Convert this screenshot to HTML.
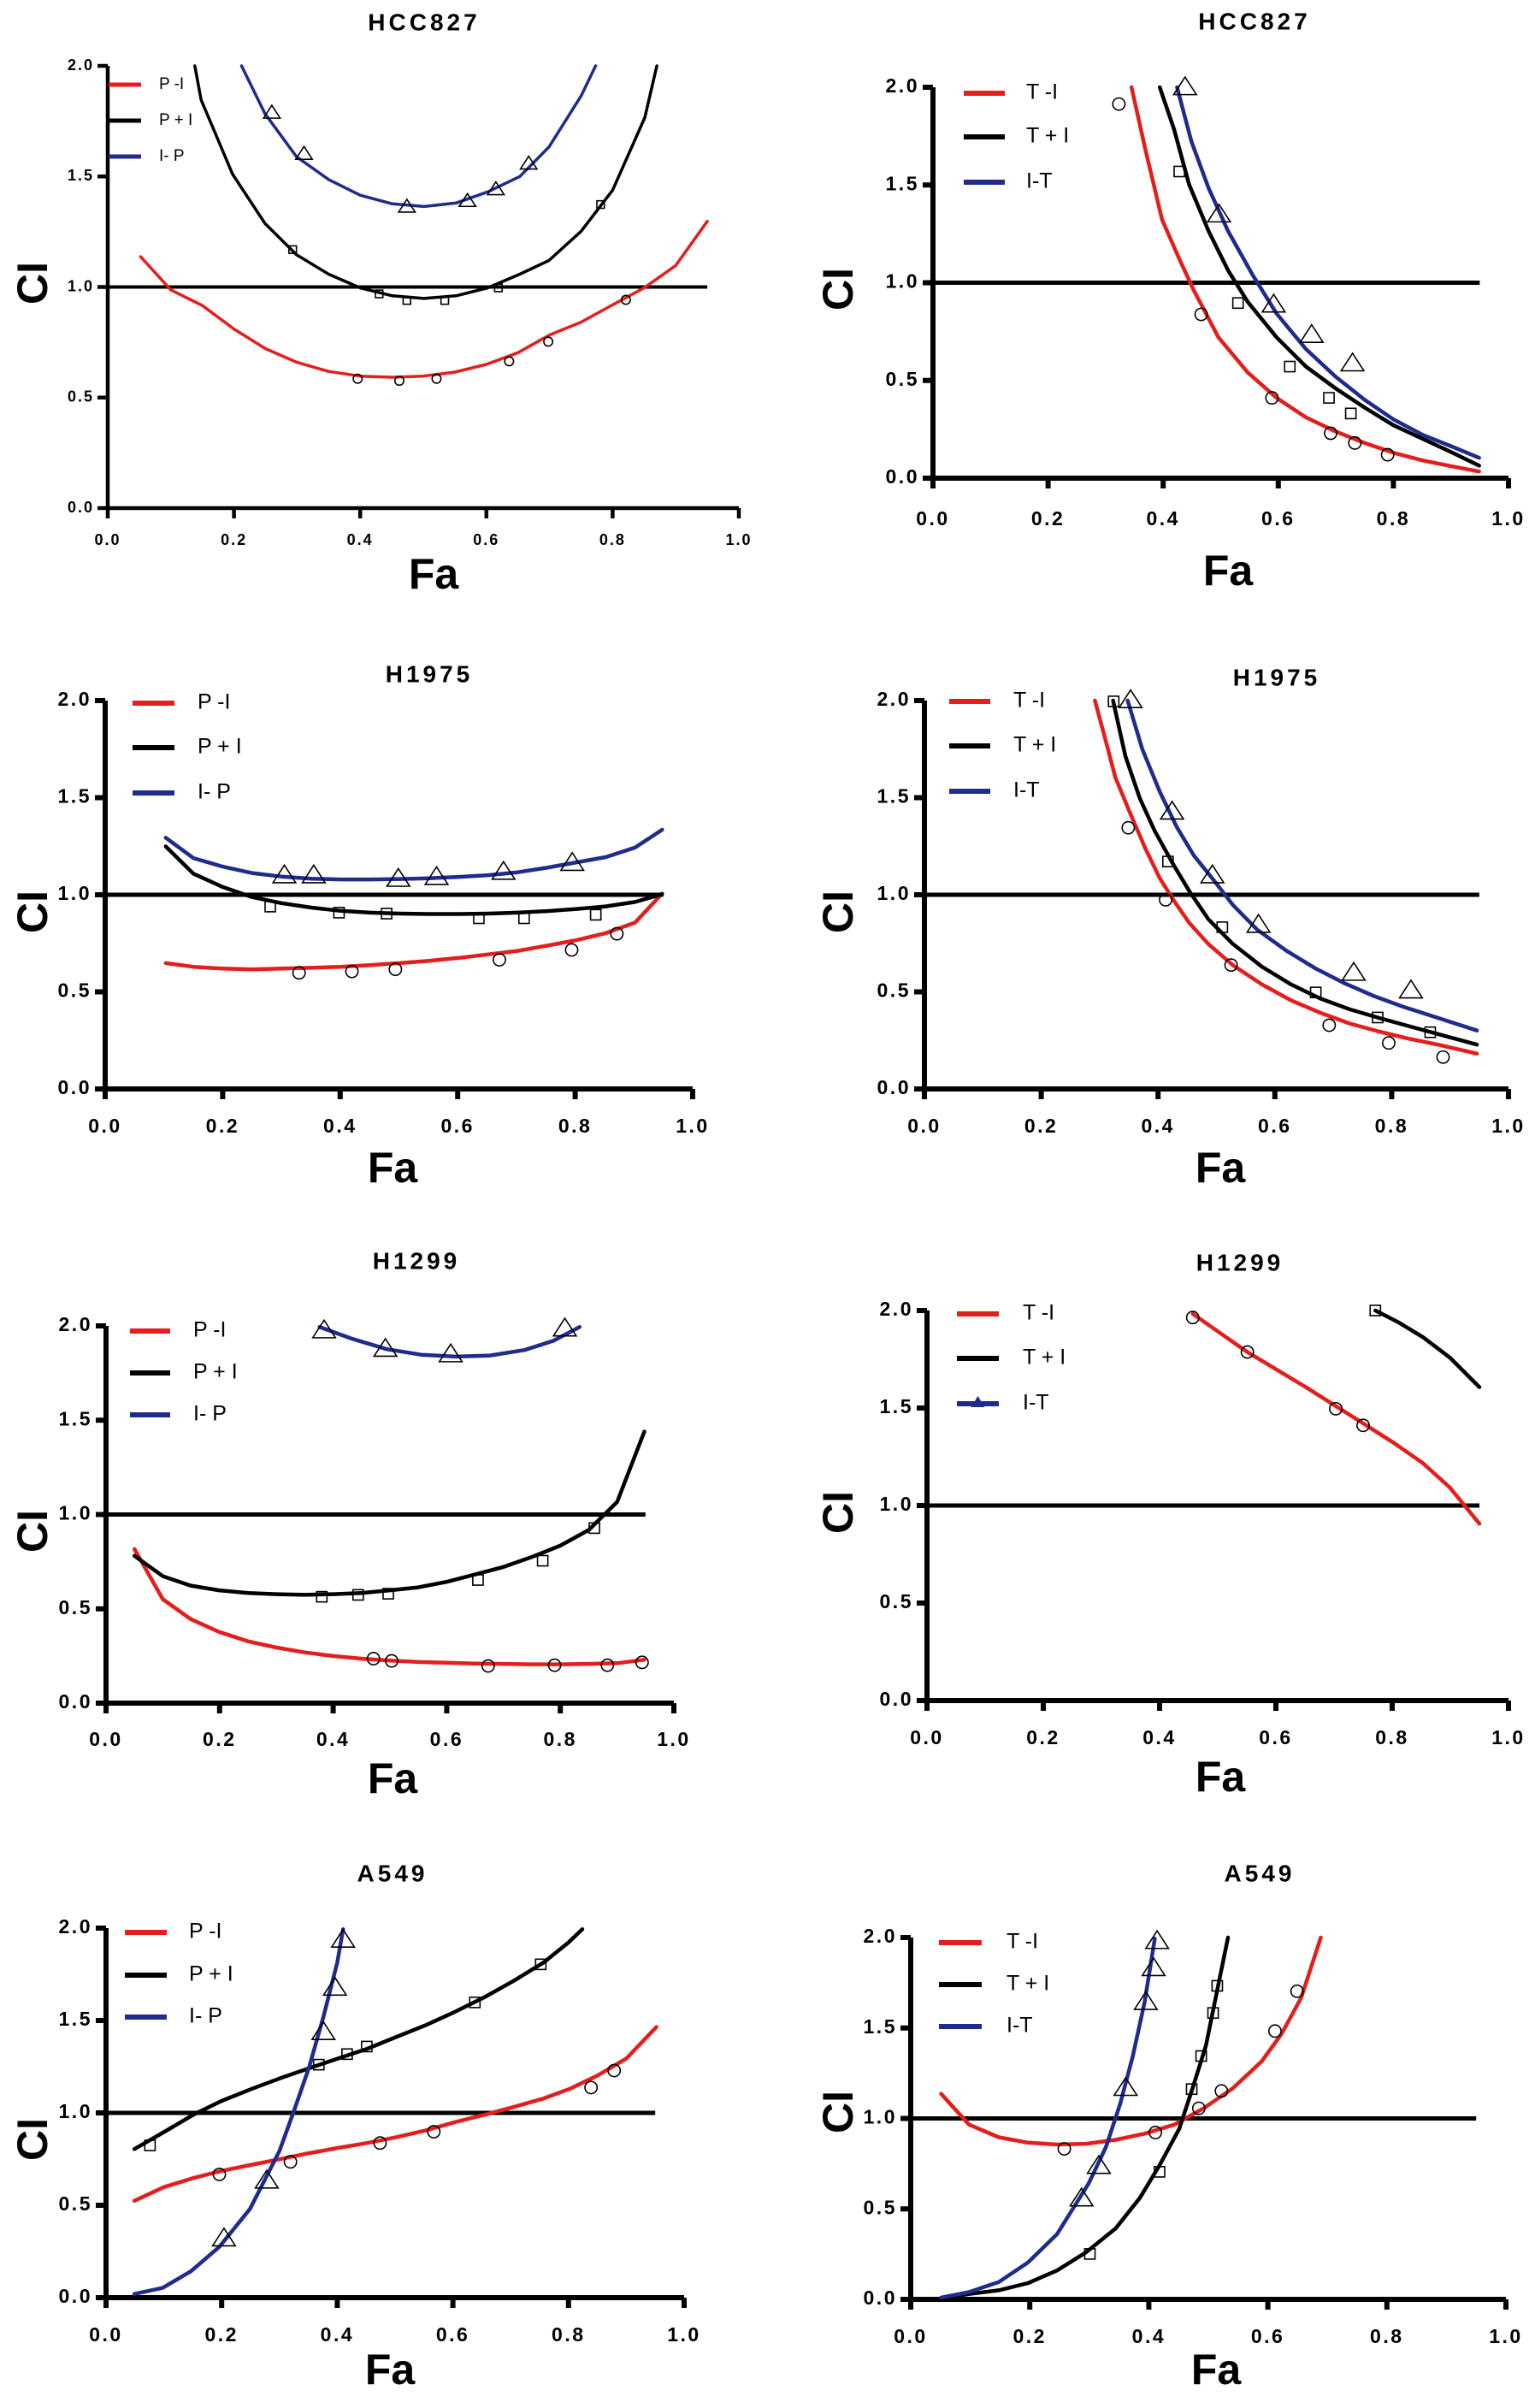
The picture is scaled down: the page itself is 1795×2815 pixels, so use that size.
<!DOCTYPE html>
<html><head><meta charset="utf-8">
<style>
html,body{margin:0;padding:0;background:#fff;}
svg{display:block;}
text{font-family:"Liberation Sans",Arial,sans-serif;}
</style></head>
<body>
<svg id="fig" width="1795" height="2815" viewBox="0 0 1795 2815" xmlns="http://www.w3.org/2000/svg"></svg>
<script>
// ---------- data ----------
// Panel 1 HCC827 (P)
const p1_red_x=[0.052,0.1,0.15,0.2,0.25,0.3,0.35,0.4,0.45,0.5,0.55,0.6,0.65,0.7,0.75,0.8,0.85,0.9,0.95];
const p1_red_y=[1.137,0.987,0.916,0.81,0.721,0.659,0.618,0.597,0.592,0.597,0.615,0.65,0.703,0.783,0.841,0.919,0.996,1.097,1.297];
const p1_red_px=[0.396,0.462,0.521,0.636,0.698,0.821];
const p1_red_py=[0.585,0.576,0.585,0.664,0.753,0.942];
const p1_blk_x=[0.138,0.148,0.198,0.249,0.299,0.35,0.4,0.451,0.501,0.552,0.602,0.653,0.699,0.75,0.8,0.851,0.87];
const p1_blk_y=[2.0,1.846,1.509,1.288,1.146,1.058,0.996,0.96,0.948,0.96,0.996,1.058,1.12,1.252,1.438,1.766,2.0];
const p1_blk_px=[0.293,0.43,0.474,0.534,0.619,0.781];
const p1_blk_py=[1.169,0.969,0.939,0.939,0.996,1.373];
const p1_blu_x=[0.212,0.249,0.299,0.35,0.4,0.451,0.501,0.552,0.602,0.653,0.699,0.75,0.773];
const p1_blu_y=[2.0,1.784,1.589,1.486,1.415,1.376,1.364,1.38,1.43,1.5,1.633,1.864,2.0];
const p1_blu_px=[0.26,0.311,0.474,0.57,0.615,0.667];
const p1_blu_py=[1.784,1.598,1.359,1.385,1.438,1.554];
// Panel 2 HCC827 (T)
const p2_red_x=[0.345,0.369,0.398,0.428,0.453,0.496,0.547,0.597,0.648,0.699,0.75,0.8,0.852,0.903,0.949];
const p2_red_y=[2.0,1.683,1.323,1.122,0.962,0.721,0.541,0.411,0.311,0.24,0.18,0.13,0.09,0.06,0.034];
const p2_red_px=[0.323,0.466,0.589,0.691,0.733,0.79];
const p2_red_py=[1.914,0.838,0.411,0.23,0.18,0.12];
const p2_blk_x=[0.394,0.419,0.445,0.479,0.513,0.547,0.597,0.648,0.699,0.75,0.8,0.852,0.903,0.949];
const p2_blk_y=[2.0,1.784,1.503,1.263,1.062,0.902,0.721,0.571,0.461,0.361,0.271,0.2,0.13,0.064];
const p2_blk_px=[0.428,0.53,0.62,0.688,0.726];
const p2_blk_py=[1.569,0.896,0.571,0.411,0.331];
const p2_blu_x=[0.424,0.449,0.479,0.513,0.555,0.597,0.648,0.699,0.75,0.8,0.852,0.903,0.949];
const p2_blu_y=[2.0,1.723,1.483,1.263,1.042,0.842,0.661,0.521,0.401,0.301,0.22,0.16,0.104];
const p2_blu_px=[0.438,0.497,0.592,0.658,0.729];
const p2_blu_py=[1.994,1.343,0.882,0.727,0.581];
// Panel 3 H1975 (P)
const p3_red_x=[0.103,0.15,0.2,0.25,0.3,0.351,0.401,0.451,0.501,0.551,0.602,0.652,0.702,0.752,0.802,0.852,0.902,0.948];
const p3_red_y=[0.648,0.629,0.62,0.616,0.62,0.624,0.629,0.638,0.648,0.66,0.675,0.693,0.711,0.738,0.766,0.802,0.857,1.006];
const p3_red_px=[0.33,0.42,0.494,0.671,0.794,0.871];
const p3_red_py=[0.598,0.605,0.616,0.665,0.716,0.799];
const p3_blk_x=[0.103,0.15,0.2,0.25,0.3,0.351,0.401,0.451,0.501,0.551,0.602,0.652,0.702,0.752,0.802,0.852,0.902,0.948];
const p3_blk_y=[1.249,1.109,1.04,0.988,0.957,0.934,0.917,0.908,0.903,0.901,0.901,0.903,0.908,0.916,0.927,0.94,0.963,1.003];
const p3_blk_px=[0.281,0.398,0.479,0.636,0.713,0.835];
const p3_blk_py=[0.939,0.908,0.903,0.879,0.879,0.897];
const p3_blu_x=[0.103,0.15,0.2,0.25,0.3,0.351,0.401,0.451,0.501,0.551,0.602,0.652,0.702,0.752,0.802,0.852,0.902,0.948];
const p3_blu_y=[1.294,1.189,1.145,1.112,1.094,1.083,1.079,1.079,1.081,1.085,1.092,1.101,1.116,1.139,1.167,1.194,1.243,1.335];
const p3_blu_px=[0.305,0.355,0.499,0.564,0.678,0.795];
const p3_blu_py=[1.094,1.094,1.076,1.085,1.112,1.158];
// Panel 4 H1975 (T)
const p4_red_x=[0.292,0.311,0.327,0.352,0.378,0.403,0.428,0.453,0.486,0.528,0.578,0.628,0.678,0.728,0.779,0.829,0.879,0.946];
const p4_red_y=[2.0,1.787,1.604,1.422,1.24,1.085,0.966,0.857,0.747,0.638,0.538,0.456,0.392,0.337,0.295,0.259,0.228,0.182];
const p4_red_px=[0.349,0.413,0.525,0.693,0.795,0.888];
const p4_red_py=[1.345,0.974,0.638,0.328,0.237,0.164];
const p4_blk_x=[0.323,0.344,0.369,0.394,0.424,0.453,0.486,0.528,0.578,0.628,0.678,0.728,0.779,0.829,0.879,0.946];
const p4_blk_y=[2.0,1.714,1.495,1.331,1.167,1.021,0.875,0.747,0.629,0.538,0.465,0.41,0.365,0.324,0.283,0.228];
const p4_blk_px=[0.324,0.417,0.51,0.67,0.776,0.866];
const p4_blk_py=[1.996,1.171,0.833,0.497,0.368,0.292];
const p4_blu_x=[0.348,0.373,0.403,0.432,0.461,0.495,0.528,0.57,0.62,0.67,0.72,0.77,0.82,0.871,0.946];
const p4_blu_y=[2.0,1.75,1.531,1.349,1.203,1.076,0.948,0.82,0.711,0.62,0.543,0.478,0.423,0.374,0.301];
const p4_blu_px=[0.353,0.424,0.493,0.572,0.735,0.833];
const p4_blu_py=[1.996,1.422,1.094,0.839,0.592,0.501];
// Panel 5 H1299 (P)
const p5_red_x=[0.05,0.1,0.149,0.199,0.25,0.3,0.35,0.4,0.45,0.5,0.55,0.6,0.65,0.7,0.75,0.8,0.85,0.9,0.948];
const p5_red_y=[0.817,0.551,0.446,0.378,0.328,0.295,0.269,0.25,0.236,0.226,0.218,0.214,0.21,0.208,0.206,0.206,0.208,0.212,0.23];
const p5_red_px=[0.471,0.503,0.673,0.79,0.883,0.944];
const p5_red_py=[0.236,0.224,0.197,0.201,0.201,0.216];
const p5_blk_x=[0.05,0.1,0.149,0.199,0.25,0.3,0.35,0.4,0.45,0.5,0.55,0.6,0.65,0.7,0.75,0.8,0.85,0.9,0.948];
const p5_blk_y=[0.781,0.673,0.623,0.598,0.584,0.578,0.574,0.578,0.584,0.598,0.614,0.643,0.682,0.722,0.775,0.835,0.918,1.066,1.44];
const p5_blk_px=[0.38,0.444,0.497,0.655,0.769,0.86];
const p5_blk_py=[0.564,0.574,0.58,0.653,0.755,0.928];
const p5_blu_x=[0.376,0.434,0.495,0.555,0.616,0.676,0.737,0.788,0.834];
const p5_blu_y=[1.994,1.931,1.876,1.847,1.837,1.843,1.872,1.921,1.994];
const p5_blu_px=[0.384,0.492,0.607,0.808];
const p5_blu_py=[1.97,1.872,1.843,1.98];
// Panel 6 H1299 (T)
const p6_red_x=[0.457,0.551,0.652,0.753,0.803,0.853,0.899,0.95];
const p6_red_y=[1.983,1.787,1.606,1.416,1.321,1.217,1.093,0.907];
const p6_red_px=[0.457,0.551,0.703,0.75];
const p6_red_py=[1.964,1.787,1.496,1.411];
const p6_blk_x=[0.771,0.811,0.853,0.899,0.95];
const p6_blk_y=[2.0,1.939,1.863,1.759,1.607];
const p6_blk_px=[0.771];
const p6_blk_py=[2.0];
const p6_blu_x=[];
const p6_blu_y=[];
const p6_blu_px=[];
const p6_blu_py=[];
// Panel 7 A549 (P)
const p7_red_x=[0.049,0.1,0.151,0.2,0.253,0.3,0.351,0.401,0.452,0.503,0.554,0.605,0.655,0.706,0.757,0.803,0.85,0.9,0.952];
const p7_red_y=[0.524,0.598,0.647,0.686,0.72,0.749,0.782,0.81,0.837,0.869,0.906,0.951,0.99,1.033,1.078,1.131,1.202,1.294,1.465];
const p7_red_px=[0.196,0.319,0.474,0.567,0.839,0.879];
const p7_red_py=[0.667,0.735,0.837,0.898,1.137,1.229];
const p7_blk_x=[0.049,0.1,0.151,0.2,0.253,0.3,0.351,0.401,0.452,0.503,0.554,0.605,0.655,0.706,0.757,0.8,0.824];
const p7_blk_y=[0.804,0.896,0.99,1.065,1.131,1.186,1.241,1.294,1.347,1.412,1.476,1.549,1.627,1.716,1.814,1.922,1.994];
const p7_blk_px=[0.076,0.368,0.417,0.451,0.638,0.752];
const p7_blk_py=[0.824,1.261,1.318,1.359,1.598,1.804];
const p7_blu_x=[0.049,0.098,0.147,0.196,0.249,0.3,0.325,0.351,0.376,0.4,0.41];
const p7_blu_y=[0.02,0.053,0.143,0.275,0.48,0.794,1.01,1.245,1.52,1.814,1.994];
const p7_blu_px=[0.204,0.278,0.376,0.396,0.41];
const p7_blu_py=[0.314,0.627,1.431,1.671,1.931];
// Panel 8 A549 (T)
const p8_red_x=[0.051,0.098,0.148,0.197,0.246,0.295,0.344,0.393,0.443,0.492,0.541,0.59,0.623,0.656,0.689];
const p8_red_y=[1.136,0.966,0.896,0.866,0.856,0.86,0.882,0.916,0.966,1.056,1.166,1.317,1.467,1.667,2.0];
const p8_red_px=[0.258,0.411,0.484,0.522,0.612,0.649];
const p8_red_py=[0.832,0.922,1.056,1.152,1.483,1.703];
const p8_blk_x=[0.051,0.098,0.148,0.197,0.246,0.295,0.344,0.385,0.418,0.451,0.475,0.496,0.512,0.533];
const p8_blk_y=[0.004,0.03,0.05,0.09,0.16,0.261,0.391,0.561,0.741,0.942,1.182,1.403,1.663,2.0];
const p8_blk_px=[0.301,0.418,0.472,0.488,0.508,0.515];
const p8_blk_py=[0.251,0.705,1.162,1.345,1.583,1.733];
const p8_blu_x=[0.051,0.098,0.148,0.197,0.246,0.299,0.328,0.352,0.373,0.393,0.41];
const p8_blu_y=[0.01,0.04,0.096,0.204,0.361,0.641,0.842,1.082,1.343,1.643,1.994];
const p8_blu_px=[0.287,0.316,0.361,0.395,0.408,0.414];
const p8_blu_py=[0.551,0.731,1.162,1.637,1.824,1.974];

const xTicks=[0,0.2,0.4,0.6,0.8,1.0];
const yTicks=[0,0.5,1.0,1.5,2.0];
const xTickLabels=["0.0","0.2","0.4","0.6","0.8","1.0"];
const yTickLabels=["0.0","0.5","1.0","1.5","2.0"];
const refValue=1.0, refXMax=0.95;

// ---------- layout (pixels) ----------
const RED="#e41e1c", BLK="#000", BLU="#1f2c8c";
const panels=[
 {id:"p1",title:"HCC827",x0:126,x1:864,yT:77,yB:594,tx:496,ty:28,fa:[507,688],ci:[34,323],tick:18,tickY:632,lg:{l1:127,l2:165,lx:186,rows:[99,141,183],fs:19},names:["P -I","P + I","I- P"],mk:0.8,d:[p1_red_x,p1_red_y,p1_red_px,p1_red_py,p1_blk_x,p1_blk_y,p1_blk_px,p1_blk_py,p1_blu_x,p1_blu_y,p1_blu_px,p1_blu_py]},
 {id:"p2",title:"HCC827",x0:1091,x1:1764,yT:102,yB:559,tx:1467,ty:27,fa:[1436,684],ci:[976,330],tick:23,tickY:608,lg:{l1:1127,l2:1175,lx:1200,rows:[109,160,213],fs:25},names:["T -I","T + I","I-T"],mk:1.1,d:[p2_red_x,p2_red_y,p2_red_px,p2_red_py,p2_blk_x,p2_blk_y,p2_blk_px,p2_blk_py,p2_blu_x,p2_blu_y,p2_blu_px,p2_blu_py]},
 {id:"p3",title:"H1975",x0:123,x1:810,yT:819,yB:1273,tx:502,ty:790,fa:[459,1382],ci:[34,1058],tick:23,tickY:1318,lg:{l1:155,l2:204,lx:231,rows:[822,874,927],fs:25},names:["P -I","P + I","I- P"],mk:1.1,d:[p3_red_x,p3_red_y,p3_red_px,p3_red_py,p3_blk_x,p3_blk_y,p3_blk_px,p3_blk_py,p3_blu_x,p3_blu_y,p3_blu_px,p3_blu_py]},
 {id:"p4",title:"H1975",x0:1081,x1:1764,yT:819,yB:1273,tx:1493,ty:794,fa:[1427,1382],ci:[976,1058],tick:23,tickY:1318,lg:{l1:1110,l2:1158,lx:1185,rows:[820,872,925],fs:25},names:["T -I","T + I","I-T"],mk:1.1,d:[p4_red_x,p4_red_y,p4_red_px,p4_red_py,p4_blk_x,p4_blk_y,p4_blk_px,p4_blk_py,p4_blu_x,p4_blu_y,p4_blu_px,p4_blu_py]},
 {id:"p5",title:"H1299",x0:124,x1:788,yT:1550,yB:1991,tx:487,ty:1476,fa:[459,2096],ci:[34,1782],tick:23,tickY:2035,lg:{l1:152,l2:199,lx:226,rows:[1556,1605,1654],fs:25},names:["P -I","P + I","I- P"],mk:1.1,d:[p5_red_x,p5_red_y,p5_red_px,p5_red_py,p5_blk_x,p5_blk_y,p5_blk_px,p5_blk_py,p5_blu_x,p5_blu_y,p5_blu_px,p5_blu_py]},
 {id:"p6",title:"H1299",x0:1084,x1:1764,yT:1532,yB:1988,tx:1450,ty:1478,fa:[1427,2094],ci:[976,1760],tick:23,tickY:2033,lg:{l1:1119,l2:1168,lx:1196,rows:[1536,1588,1641],fs:25},names:["T -I","T + I","I-T"],mk:1.1,legendTri:true,d:[p6_red_x,p6_red_y,p6_red_px,p6_red_py,p6_blk_x,p6_blk_y,p6_blk_px,p6_blk_py,p6_blu_x,p6_blu_y,p6_blu_px,p6_blu_py]},
 {id:"p7",title:"A549",x0:124,x1:800,yT:2254,yB:2686,tx:459,ty:2192,fa:[456,2787],ci:[34,2493],tick:23,tickY:2731,lg:{l1:146,l2:195,lx:221,rows:[2259,2309,2358],fs:25},names:["P -I","P + I","I- P"],mk:1.1,d:[p7_red_x,p7_red_y,p7_red_px,p7_red_py,p7_blk_x,p7_blk_y,p7_blk_px,p7_blk_py,p7_blu_x,p7_blu_y,p7_blu_px,p7_blu_py]},
 {id:"p8",title:"A549",x0:1065,x1:1761,yT:2265,yB:2688,tx:1473,ty:2192,fa:[1422,2787],ci:[976,2461],tick:23,tickY:2733,lg:{l1:1098,l2:1148,lx:1177,rows:[2271,2320,2369],fs:25},names:["T -I","T + I","I-T"],mk:1.1,d:[p8_red_x,p8_red_y,p8_red_px,p8_red_py,p8_blk_x,p8_blk_y,p8_blk_px,p8_blk_py,p8_blu_x,p8_blu_y,p8_blu_px,p8_blu_py]}
];

const NS="http://www.w3.org/2000/svg";
const svg=document.getElementById("fig");
function mk(tag,attrs,parent){const e=document.createElementNS(NS,tag);for(const k in attrs)e.setAttribute(k,attrs[k]);parent.appendChild(e);return e;}

panels.forEach(P=>{
  const g=mk("g",{},svg);
  
  
  const sx=v=>P.x0+v*(P.x1-P.x0);
  const sy=v=>P.yB-v/2*(P.yB-P.yT);
  const big=P.tick>18;
  const aw=big?6:4.5, lw=big?4.5:3.5;
  const t=mk("text",{x:P.tx,y:P.ty,"text-anchor":"middle","dominant-baseline":"middle","font-size":28,"font-weight":"bold","letter-spacing":"4"},g);
  t.textContent=P.title;
  
  
  const ax=mk("path",{d:`M${P.x0},${P.yT} L${P.x0},${P.yB} L${P.x1},${P.yB}`,fill:"none",stroke:"#000","stroke-width":aw},g);
  
  
  xTicks.forEach((v,i)=>{
    const tk=mk("line",{x1:sx(v),x2:sx(v),y1:P.yB,y2:P.yB+12,stroke:"#000","stroke-width":aw},g);
    
    
    const tl=mk("text",{x:sx(v),y:P.tickY,"text-anchor":"middle","dominant-baseline":"middle","font-size":P.tick,"font-weight":"bold","letter-spacing":big?"2.5":"2"},g);
    tl.textContent=xTickLabels[i];
    
    
  });
  yTicks.forEach((v,i)=>{
    const tk=mk("line",{x1:P.x0-12,x2:P.x0,y1:sy(v),y2:sy(v),stroke:"#000","stroke-width":aw},g);
    
    
    const tl=mk("text",{x:P.x0-16,y:sy(v),"text-anchor":"end","dominant-baseline":"middle","font-size":P.tick,"font-weight":"bold","letter-spacing":big?"2.5":"2"},g);
    tl.textContent=yTickLabels[i];
    
    
  });
  const fa=mk("text",{x:P.fa[0],y:P.fa[1],"text-anchor":"middle","font-size":50,"font-weight":"bold"},g);
  fa.textContent="Fa";
  
  
  const ci=mk("text",{x:P.ci[0],y:P.ci[1],"text-anchor":"middle","dominant-baseline":"middle","font-size":50,"font-weight":"bold",transform:`rotate(-90 ${P.ci[0]+8} ${P.ci[1]})`},g);
  ci.textContent="CI";
  
  
  const rl=mk("line",{x1:P.x0,x2:sx(refXMax),y1:sy(refValue),y2:sy(refValue),stroke:"#000","stroke-width":big?5:4},g);
  
  
  const cols=[RED,BLK,BLU], keys=["red","black","blue"], shapes=["circle","square","triangle"];
  for(let s=0;s<3;s++){
    const xs=P.d[s*4], ys=P.d[s*4+1], pxs=P.d[s*4+2], pys=P.d[s*4+3];
    if(xs.length){
      const pts=xs.map((x,i)=>sx(x).toFixed(1)+","+sy(ys[i]).toFixed(1)).join(" ");
      const pl=mk("polyline",{points:pts,fill:"none",stroke:cols[s],"stroke-width":lw,"stroke-linejoin":"round","stroke-linecap":"round"},g);
      
      
    }
    pxs.forEach((x,i)=>{
      const cx=sx(x), cy=sy(pys[i]); let m;
      if(shapes[s]==="circle"){m=mk("circle",{cx,cy,r:6.5*P.mk,fill:"none",stroke:"#000","stroke-width":1.6},g);}
      else if(shapes[s]==="square"){const h=5.5*P.mk;m=mk("rect",{x:cx-h,y:cy-h,width:2*h,height:2*h,fill:"none",stroke:"#000","stroke-width":1.6},g);}
      else {const a=11*P.mk;m=mk("polygon",{points:`${cx},${cy-a*1.1} ${cx-a*1.1},${cy+a*0.6} ${cx+a*1.1},${cy+a*0.6}`,fill:"none",stroke:"#000","stroke-width":1.6},g);}
      
      
    });
  }
  for(let s=0;s<3;s++){
    const ry=P.lg.rows[s];
    const ll=mk("line",{x1:P.lg.l1,x2:P.lg.l2,y1:ry,y2:ry,stroke:cols[s],"stroke-width":big?6:5},g);
    
    
    if(P.legendTri&&s===2){
      const c=(P.lg.l1+P.lg.l2)/2;
      const tr=mk("polygon",{points:`${c},${ry-9} ${c-8},${ry+4} ${c+8},${ry+4}`,fill:BLU},g);
      
      
    }
    const lt=mk("text",{x:P.lg.lx,y:ry,"dominant-baseline":"middle","font-size":P.lg.fs},g);
    lt.textContent=P.names[s];
    
    
  }
});
</script>
</body></html>
